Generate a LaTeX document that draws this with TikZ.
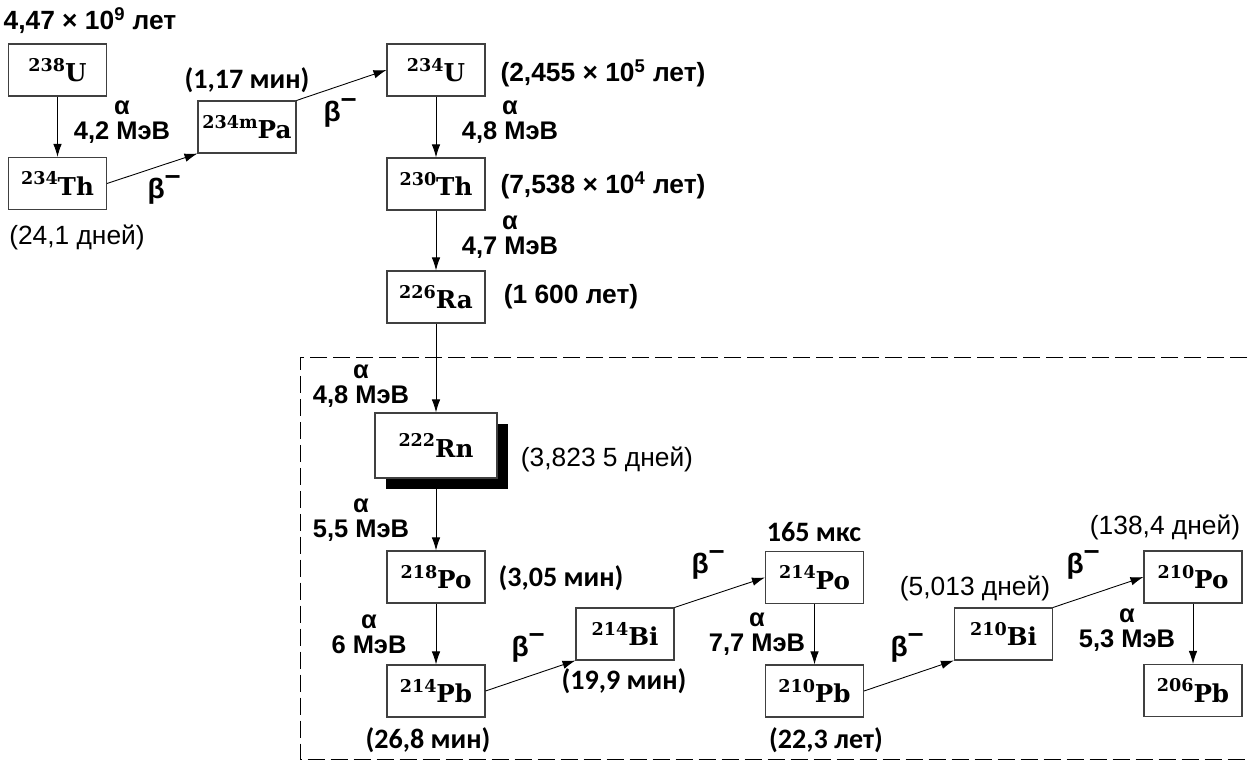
\documentclass[tikz,border=0pt]{standalone}
\usepackage{fontspec}
\setmainfont{DejaVu Serif}
\newfontfamily\sansfont{Liberation Sans}
\newfontfamily\calfont{Carlito}
\usetikzlibrary{arrows.meta,shadows}
\newcommand{\betam}{β\raisebox{0.5em}{–}}
\newcommand{\nucl}[2]{\raisebox{0.42em}{\fontsize{10}{11}\selectfont #1}#2}
\tikzset{
  dc nuclide/.style={
    rectangle,
    minimum width=1.96cm,
    minimum height=1.04cm,
    line width=0.6pt,
    draw=black!75,
    fill=white,
    font=\bfseries\fontsize{14}{16}\selectfont,
    inner sep=1pt,
  },
  dc radon/.style={
    dc nuclide,
    minimum width=2.44cm,
    minimum height=1.3cm,
    drop shadow={shadow xshift=0.22cm, shadow yshift=-0.22cm, fill=black, opacity=1},
  },
  dc energy/.style={align=center, inner sep=0pt, font=\sansfont\bfseries\fontsize{14.5}{14}\selectfont},
  dc life/.style={inner sep=0pt, font=\sansfont\fontsize{15}{17}\selectfont},
  dc life bold/.style={inner sep=0pt, font=\sansfont\bfseries\fontsize{15}{17}\selectfont},
  dc life cal/.style={inner sep=0pt, font=\calfont\bfseries\fontsize{16}{18}\selectfont},
  dc beta/.style={inner sep=0pt, font=\sansfont\bfseries\fontsize{16}{18}\selectfont},
  dc arrow/.style={-{Latex[length=2.6mm,width=1.7mm]}, line width=0.5pt},
  dc frame/.style={dash pattern=on 0.34cm off 0.12cm, line width=0.5pt},
}
\begin{document}
\begin{tikzpicture}[x=0.02cm, y=-0.02cm]
  \useasboundingbox (0,0) rectangle (1248,763);

  % upper part of the chain
  \node[dc nuclide] (U238) at (57.5,70) {\nucl{238}{U}};
  \node[dc nuclide] (Th234) at (57.5,183.5) {\nucl{234}{Th}};
  \node[dc nuclide] (Pa234) at (247,127) {\nucl{234m}{Pa}};
  \node[dc nuclide] (U234) at (436,70) {\nucl{234}{U}};
  \node[dc nuclide] (Th230) at (436,184) {\nucl{230}{Th}};
  \node[dc nuclide] (Ra226) at (436,297) {\nucl{226}{Ra}};

  % radon and its daughters
  \node[dc radon] (Rn222) at (436,445.5) {\nucl{222}{Rn}};
  \node[dc nuclide] (Po218) at (436,577) {\nucl{218}{Po}};
  \node[dc nuclide] (Pb214) at (436,691) {\nucl{214}{Pb}};
  \node[dc nuclide] (Bi214) at (625,634) {\nucl{214}{Bi}};
  \node[dc nuclide] (Po214) at (814.5,577.5) {\nucl{214}{Po}};
  \node[dc nuclide] (Pb210) at (814.5,691) {\nucl{210}{Pb}};
  \node[dc nuclide] (Bi210) at (1003.5,634) {\nucl{210}{Bi}};
  \node[dc nuclide] (Po210) at (1193,577) {\nucl{210}{Po}};
  \node[dc nuclide] (Pb206) at (1193,690.5) {\nucl{206}{Pb}};

  \draw[dc frame] (1270,357) -| (300,759) -- (1270,759);

  \draw[dc arrow] (U238) -- (Th234);
  \draw[dc arrow] (Th234.east) -- (Pa234.south west);
  \draw[dc arrow] (Pa234.north east) -- (U234.west);
  \draw[dc arrow] (U234) -- (Th230);
  \draw[dc arrow] (Th230) -- (Ra226);
  \draw[dc arrow] (Ra226) -- (Rn222);
  \draw[dc arrow] (Rn222) -- (Po218);
  \draw[dc arrow] (Po218) -- (Pb214);
  \draw[dc arrow] (Pb214.east) -- (Bi214.south west);
  \draw[dc arrow] (Bi214.north east) -- (Po214.west);
  \draw[dc arrow] (Po214) -- (Pb210);
  \draw[dc arrow] (Pb210.east) -- (Bi210.south west);
  \draw[dc arrow] (Bi210.north east) -- (Po210.west);
  \draw[dc arrow] (Po210) -- (Pb206);

  % half-lives
  \node[dc life bold] (tU238) at (90,21) {4,47 × 10\textsuperscript{9} лет};
  \node[dc life] (tTh234) at (77,237) {(24,1 дней)};
  \node[dc life cal] (tPa234) at (247,80) {(1,17 мин)};
  \node[dc life bold] (tU234) at (603,73) {(2,455 × 10\textsuperscript{5} лет)};
  \node[dc life bold] (tTh230) at (603,185) {(7,538 × 10\textsuperscript{4} лет)};
  \node[dc life bold] (tRa226) at (571,297) {(1 600 лет)};
  \node[dc life] (tRn222) at (607,459) {(3,823 5 дней)};
  \node[dc life cal] (tPo218) at (561,578) {(3,05 мин)};
  \node[dc life cal] (tPb214) at (428,740) {(26,8 мин)};
  \node[dc life cal] (tBi214) at (624,681) {(19,9 мин)};
  \node[dc life cal] (tPo214) at (814,532) {165 мкс};
  \node[dc life cal] (tPb210) at (826,740) {(22,3 лет)};
  \node[dc life] (tBi210) at (975,588) {(5,013 дней)};
  \node[dc life] (tPo210) at (1165,527) {(138,4 дней)};

  % alpha energies
  \node[dc energy] (eU238) at (122,122) {α\\4,2 МэВ};
  \node[dc energy] (eU234) at (510,122) {α\\4,8 МэВ};
  \node[dc energy] (eTh230) at (510,237) {α\\4,7 МэВ};
  \node[dc energy] (eRa226) at (361,386) {α\\4,8 МэВ};
  \node[dc energy] (eRn222) at (361,520) {α\\5,5 МэВ};
  \node[dc energy] (ePo218) at (369,634) {α\\6 МэВ};
  \node[dc energy] (ePo214) at (757,634) {α\\7,7 МэВ};
  \node[dc energy] (ePo210) at (1127,630) {α\\5,3 МэВ};

  % beta decays
  \node[dc beta] (bTh234) at (164,190) {\betam};
  \node[dc beta] (bPa234) at (340,113) {\betam};
  \node[dc beta] (bPb214) at (528,648) {\betam};
  \node[dc beta] (bBi214) at (708,565) {\betam};
  \node[dc beta] (bPb210) at (907,648) {\betam};
  \node[dc beta] (bBi210) at (1083,565) {\betam};
\end{tikzpicture}
\end{document}
